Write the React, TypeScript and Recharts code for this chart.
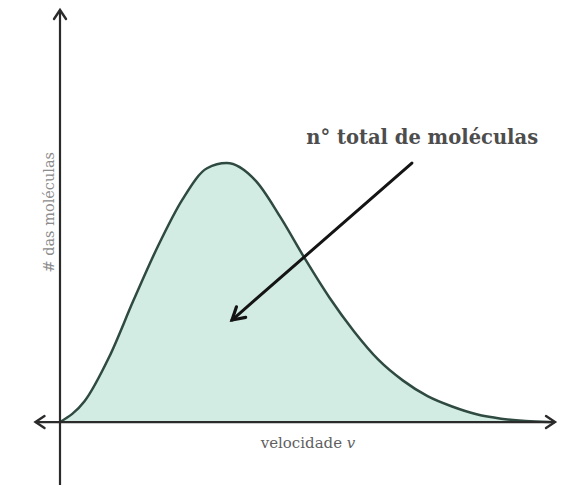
import React from 'react';
import { ComposedChart, Area, XAxis, YAxis, ReferenceLine, ReferenceDot } from 'recharts';

// speed (arbitrary units) and number of molecules (peak = 100)
const speeds = [0, 0.5, 1.0, 1.5, 2.0, 2.5, 3.0, 3.4, 4.0, 4.5, 5.0, 5.5, 6.0, 6.5, 7.0, 7.5, 8.0, 8.5, 9.0, 9.5, 10.0];
const counts = [0, 8, 25, 47, 68, 86, 98, 100, 93, 79, 63, 48, 35, 24, 16, 10, 6, 3, 1.3, 0.4, 0];

const xDomain = [-0.5, 10.1];
const yDomain = [-24.3, 159.1];

const annotationText = 'n° total de moléculas';
const xLabel = 'velocidade ';
const xLabelVar = 'v';
const yLabel = '# das moléculas';

// annotation anchors in data units
const arrowFrom = { x: 7.18, y: 100 };
const arrowTo = { x: 3.51, y: 39.4 };
const annotationAt = { x: 7.39, y: 109.7 };
const xLabelAt = { x: 5.06, y: 0 };
const yLabelAt = { x: 0, y: 81 };

const data = speeds.map((v, i) => ({ v, n: counts[i] }));

const AXIS = '#2b2b2b';

function chevron(tx: number, ty: number, fx: number, fy: number, len: number, wid: number, color: string, sw: number) {
  const dx = tx - fx;
  const dy = ty - fy;
  const d = Math.sqrt(dx * dx + dy * dy) || 1;
  const ux = dx / d;
  const uy = dy / d;
  const nx = -uy;
  const ny = ux;
  const p1 = `${tx - len * ux + wid * nx},${ty - len * uy + wid * ny}`;
  const p2 = `${tx},${ty}`;
  const p3 = `${tx - len * ux - wid * nx},${ty - len * uy - wid * ny}`;
  return (
    <polyline
      points={`${p1} ${p2} ${p3}`}
      fill="none"
      stroke={color}
      strokeWidth={sw}
      strokeLinecap="round"
      strokeLinejoin="miter"
    />
  );
}

const HorizontalAxis = (p: any) => {
  const xa = Math.min(p.x1, p.x2);
  const xb = Math.max(p.x1, p.x2);
  const y = p.y1;
  return (
    <g>
      <line x1={xa} y1={y} x2={xb} y2={y} stroke={AXIS} strokeWidth={2.2} />
      {chevron(xa, y, xa + 10, y, 9, 6, AXIS, 2.4)}
      {chevron(xb, y, xb - 10, y, 9, 6, AXIS, 2.4)}
    </g>
  );
};

const VerticalAxis = (p: any) => {
  const ya = Math.min(p.y1, p.y2);
  const yb = Math.max(p.y1, p.y2);
  const x = p.x1;
  return (
    <g>
      <line x1={x} y1={ya} x2={x} y2={yb} stroke={AXIS} strokeWidth={2.2} />
      {chevron(x, ya, x, ya + 10, 9, 6, AXIS, 2.4)}
    </g>
  );
};

const Pointer = (p: any) => {
  const left = p.x1 < p.x2;
  const tx = left ? p.x1 : p.x2;
  const ty = left ? p.y1 : p.y2;
  const fx = left ? p.x2 : p.x1;
  const fy = left ? p.y2 : p.y1;
  return (
    <g>
      <line x1={fx} y1={fy} x2={tx} y2={ty} stroke="#141414" strokeWidth={3} strokeLinecap="round" />
      {chevron(tx, ty, fx, fy, 12, 7, '#141414', 3.2)}
    </g>
  );
};

const AnnotationText = (p: any) => (
  <text
    x={p.cx}
    y={p.cy}
    textAnchor="middle"
    dominantBaseline="central"
    fontFamily="'DejaVu Serif', serif"
    fontWeight="bold"
    fontSize={19.5}
    fill="#4d4d4d"
  >
    {annotationText}
  </text>
);

const XLabelText = (p: any) => (
  <text
    x={p.cx}
    y={p.cy + 21}
    textAnchor="middle"
    dominantBaseline="central"
    fontFamily="'DejaVu Serif', serif"
    fontSize={15}
    fill="#5f5f5f"
  >
    {xLabel}
    <tspan fontStyle="italic">{xLabelVar}</tspan>
  </text>
);

const YLabelText = (p: any) => (
  <text
    x={p.cx - 11}
    y={p.cy}
    textAnchor="middle"
    dominantBaseline="central"
    fontFamily="'DejaVu Serif', serif"
    fontSize={14.5}
    fill="#8c8c8c"
    transform={`rotate(-90, ${p.cx - 11}, ${p.cy})`}
  >
    {yLabel}
  </text>
);

export default function App() {
  return (
    <div style={{ position: 'absolute', left: 0, top: 0, width: 579, height: 488, background: '#fff' }}>
      <ComposedChart
        width={579}
        height={488}
        data={data}
        margin={{ top: 10, right: 24, bottom: 3, left: 35.5 }}
      >
        <XAxis dataKey="v" type="number" domain={xDomain} allowDataOverflow hide />
        <YAxis type="number" domain={yDomain} allowDataOverflow hide />
        <Area
          dataKey="n"
          type="monotone"
          baseValue={0}
          stroke="#2f4a41"
          strokeWidth={2.5}
          fill="#d2ece3"
          fillOpacity={1}
          isAnimationActive={false}
          dot={false}
          activeDot={false}
        />
        <ReferenceLine y={0} shape={HorizontalAxis} ifOverflow="visible" />
        <ReferenceLine x={0} shape={VerticalAxis} ifOverflow="visible" />
        <ReferenceLine segment={[arrowFrom, arrowTo]} shape={Pointer} ifOverflow="visible" />
        <ReferenceDot x={annotationAt.x} y={annotationAt.y} r={0} shape={AnnotationText} ifOverflow="visible" />
        <ReferenceDot x={xLabelAt.x} y={xLabelAt.y} r={0} shape={XLabelText} ifOverflow="visible" />
        <ReferenceDot x={yLabelAt.x} y={yLabelAt.y} r={0} shape={YLabelText} ifOverflow="visible" />
      </ComposedChart>
    </div>
  );
}
